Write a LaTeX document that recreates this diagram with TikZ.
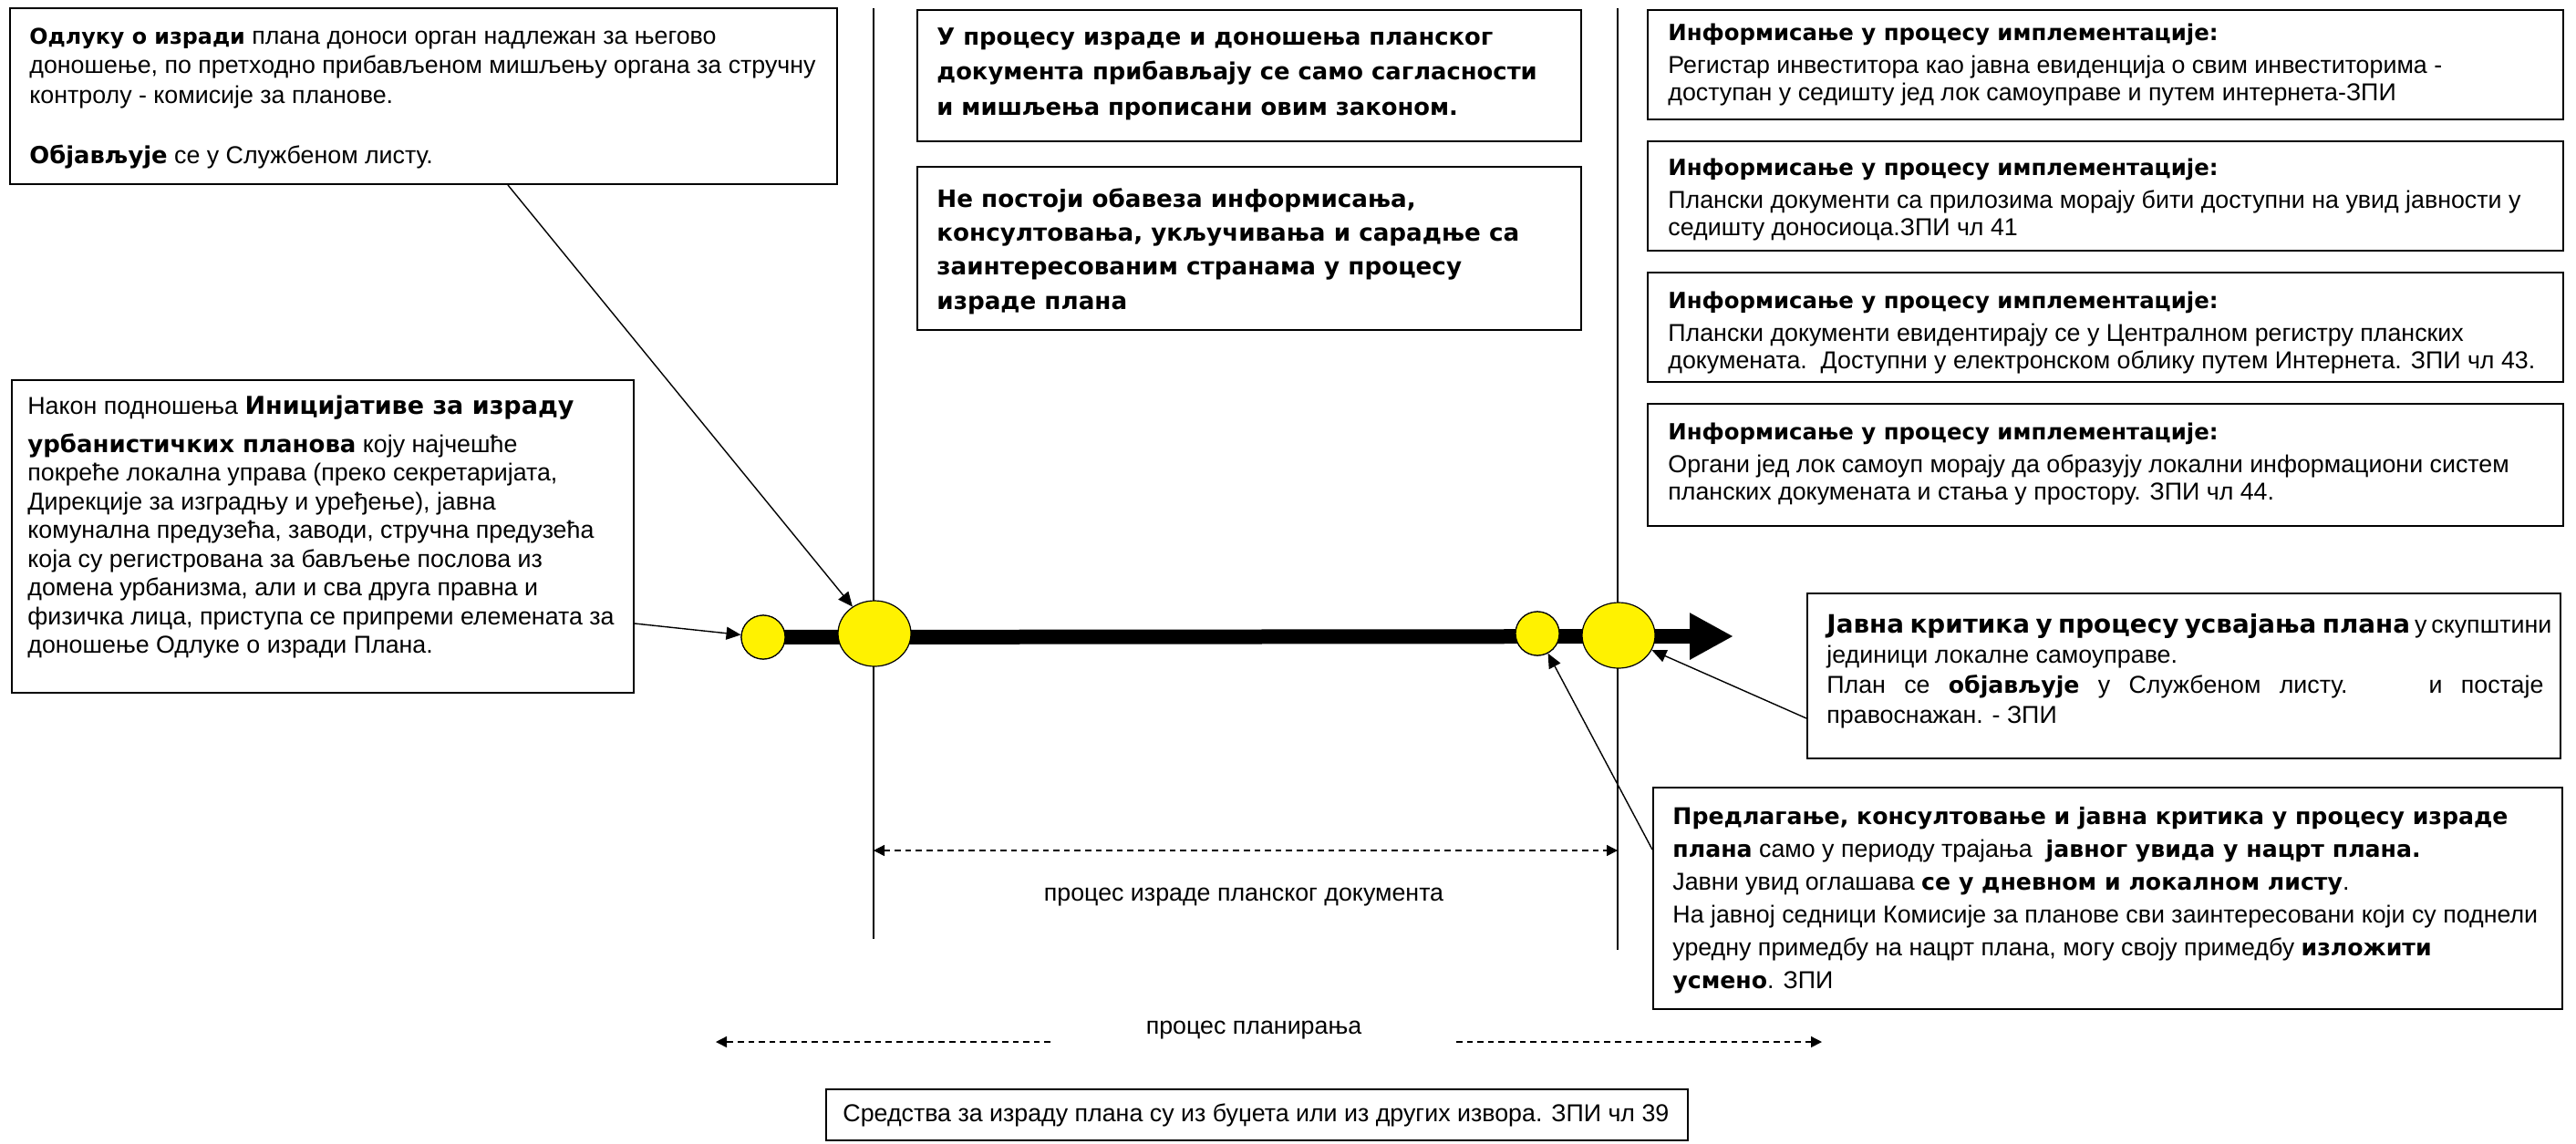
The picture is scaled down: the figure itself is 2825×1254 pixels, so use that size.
\documentclass[tikz,border=0pt]{standalone}
\usepackage{fontspec}
\setmainfont{Liberation Sans}
\newfontfamily\heavyfont{DejaVu Sans}
% heavy emphasis; its default size is set per panel through the heavy key
\def\hsz{12.5pt}
\newcommand\hb[2][\hsz]{{\heavyfont\bfseries\fontsize{#1}{\the\baselineskip}\selectfont #2}}
\usetikzlibrary{arrows.meta,shapes.geometric,fit}

\begin{document}
\begin{tikzpicture}[x=0.5pt,y=-0.5pt,
  panel/.style={draw, line width=1pt, inner sep=0pt},
  txt/.style={font=\fontsize{13.4pt}{#1}\selectfont, align=left, inner sep=0pt, anchor=north west},
  txt/.default=15.5pt,
  heavy/.code={\gdef\hsz{#1}},
  lbl/.style={font=\fontsize{13.4pt}{15pt}\selectfont, inner sep=0pt},
  thin/.style={line width=0.7pt},
  conn/.style={line width=0.7pt, -{Triangle[length=8pt,width=7pt]}},
  dashline/.style={line width=0.7pt, dash pattern=on 3.3pt off 2.5pt},
  tipd/.tip={Triangle[length=6pt,width=6pt]},
  dot/.style={circle, draw, line width=0.6pt, fill=yellow, inner sep=0pt, minimum size=24pt},
  bigdot/.style={ellipse, draw, line width=0.6pt, fill=yellow, inner sep=0pt, minimum width=40pt, minimum height=36pt}
]
\fill[white] (0,0) rectangle (2825,1254);
\useasboundingbox (0,0) rectangle (2825,1254);

% time axis separators
\coordinate (v1a) at (958,9);   \coordinate (v1b) at (958,1030);
\coordinate (v2a) at (1774,9);  \coordinate (v2b) at (1774,1042);
\draw[thin] (v1a) -- (v1b);
\draw[thin] (v2a) -- (v2b);

% panels
\node[panel, fit={(11,9) (918,202)}] (odluka) {};
\node[txt=16.4pt, heavy=11.9pt] (odlukaT) at (32,30) {%
\hb{Одлуку о изради} плана доноси орган надлежан за његово\\
доношење, по претходно прибављеном мишљењу органа за стручну\\
контролу - комисије за планове.\\[16.4pt]
\hb[12.9pt]{Објављује} се  у Службеном листу.};

\node[panel, fit={(13,417) (695,760)}] (inicijativa) {};
\node[txt=15.75pt, heavy=13pt] (inicijativaT) at (30,434) {%
Након подношења \hb[13.5pt]{Иницијативе за израду}\\[5pt]
\hb{урбанистичких планова} коју најчешће\\
покреће локална управа (преко секретаријата,\\
Дирекције за изградњу и уређење), јавна\\
комунална предузећа, заводи, стручна предузећа\\
која су регистрована за бављење послова из\\
домена урбанизма, али и сва друга правна и\\
физичка лица, приступа се припреми елемената за\\
доношење Одлуке о изради Плана.};

\node[panel, fit={(1006,11) (1734,155)}] (saglasnosti) {};
\node[txt=19.25pt, heavy=12.9pt] (saglasnostiT) at (1027,30) {%
\hb{У процесу израде и доношења планског}\\
\hb{документа прибављају се само сагласности}\\
\hb{и мишљења прописани овим законом.}};

\node[panel, fit={(1006,183) (1734,362)}] (obaveza) {};
\node[txt=18.7pt, heavy=13.1pt] (obavezaT) at (1027,206) {%
\hb{Не постоји обавеза информисања,}\\
\hb{консултовања, укључивања и сарадње са}\\
\hb{заинтересованим странама у процесу}\\
\hb{израде плана}};

\node[panel, fit={(1807,11) (2811,131)}] (info1) {};
\node[txt=15pt, heavy=12.2pt] (info1T) at (1829,26) {%
\hb{Информисање у процесу имплементације:}\\[3pt]
Регистар инвеститора као јавна евиденција о свим инвеститорима -\\
доступан у седишту јед лок самоуправе и путем интернета-ЗПИ};

\node[panel, fit={(1807,155) (2811,275)}] (info2) {};
\node[txt=15pt, heavy=12.2pt] (info2T) at (1829,174) {%
\hb{Информисање у процесу имплементације:}\\[3pt]
Плански документи са прилозима морају бити доступни на увид јавности у\\
седишту доносиоца.ЗПИ чл 41};

\node[panel, fit={(1807,299) (2811,419)}] (info3) {};
\node[txt=15pt, heavy=12.2pt] (info3T) at (1829,320) {%
\hb{Информисање у процесу имплементације:}\\[3pt]
Плански документи евидентирају се у Централном регистру планских\\
докумената.\ \ Доступни у електронском облику путем Интернета. ЗПИ чл 43.};

\node[panel, fit={(1807,443) (2811,577)}] (info4) {};
\node[txt=15pt, heavy=12.2pt] (info4T) at (1829,464) {%
\hb{Информисање у процесу имплементације:}\\[3pt]
Органи јед лок самоуп морају да образују локални информациони систем\\
планских докумената и стања у простору. ЗПИ чл 44.};

\node[panel, fit={(1982,651) (2808,832)}] (javna) {};
\node[txt=16.5pt, heavy=13.9pt] (javnaT) at (2003,673) {%
\makebox[393pt][s]{\hb{Јавна критика у процесу усвајања плана} у скупштини}\\
јединици локалне самоуправе.\\
\makebox[393pt][s]{План се \hb[12.6pt]{објављује} у Службеном листу. \ \ и постаје}\\
правоснажан. - ЗПИ};

\node[panel, fit={(1813,864) (2810,1107)}] (predlog) {};
\node[txt=18pt, heavy=12.6pt] (predlogT) at (1834,885) {%
\hb{Предлагање, консултовање и јавна критика у процесу израде}\\
\hb{плана} само у периоду трајања \ \hb{јавног увида у нацрт плана.}\\
Јавни увид оглашава \hb{се у дневном и локалном листу}.\\
На јавној седници Комисије за планове сви заинтересовани који су поднели\\
уредну примедбу на нацрт плана, могу своју примедбу \hb{изложити}\\
\hb{усмено}. ЗПИ};

\node[panel, fit={(906,1195) (1851,1251)}] (sredstva) {};
\node[txt] (sredstvaT) at (924,1210) {Средства за израду плана су из буџета или из других извора. ЗПИ чл 39};

% main time line
\node[dot] (s1) at (837,699) {};
\node[dot] (s2) at (1686,695) {};
\coordinate (tip) at (1901,698);
\draw[line width=8pt, -{Triangle[length=24pt,width=24pt]}] (s1.center) -- (tip);
\node[dot] at (s1) {};
\node[dot] at (s2) {};
\node[bigdot] (b1) at (959,695) {};
\node[bigdot] (b2) at (1775,697) {};

% connectors from the panels to the events
\draw[conn] (odluka.south west) ++(547,0) -- (b1);
\draw[conn] (inicijativa.south east) ++(0,-77) -- (s1);
\draw[conn] (javna.south west) ++(0,-45) -- (b2);
\draw[conn] (predlog.north west) ++(0,69) -- (s2);

% process spans
\coordinate (d1a) at (958,933);  \coordinate (d1b) at (1774,933);
\draw[dashline, tipd-tipd] (d1a) -- (d1b);
\node[lbl] (izrada) at (1364,984) {процес израде планског документа};

\coordinate (d2a) at (1152,1143); \coordinate (d2b) at (785,1143);
\coordinate (d2c) at (1597,1143); \coordinate (d2d) at (1998,1143);
\draw[dashline, -tipd] (d2a) -- (d2b);
\draw[dashline, -tipd] (d2c) -- (d2d);
\node[lbl] (planiranje) at (1375,1130) {процес планирања};
\end{tikzpicture}
\end{document}
